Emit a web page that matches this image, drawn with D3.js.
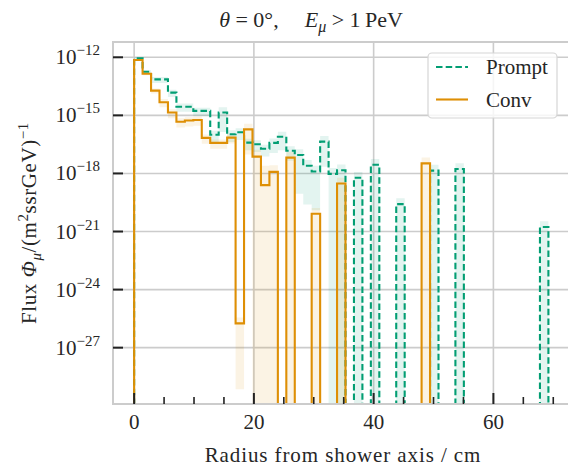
<!DOCTYPE html>
<html>
<head>
<meta charset="utf-8">
<script src="https://cdn.jsdelivr.net/npm/d3@7"></script>
<style>
body { margin: 0; background: #fff; }
</style>
</head>
<body>
<div id="chart"></div>
<script>
// radial bins, cm
const binWidth = 1.412;
const nBins = 50;

// muon flux per radial bin (0 = empty bin)
const promptFlux = [
    8.9e-13, 1.8e-13, 7.2e-14, 7.2e-14, 1.5e-14, 2.8e-15, 2.8e-15, 1.7e-15, 1.7e-15, 1.0e-16,
    1.4e-15, 1.05e-16, 1.35e-16, 3.9e-17, 3.2e-17, 1.9e-17, 3.8e-17, 7.9e-17, 1.5e-17, 8.9e-18,
    2.5e-18, 1.26e-18, 4.4e-17, 9.5e-19, 1.45e-18, 0, 6.0e-19, 0, 2.8e-18, 0,
    0, 2.6e-20, 0, 0, 0, 1.4e-18, 0, 0, 1.7e-18, 0,
    0, 0, 0, 0, 0, 0, 0, 0, 1.7e-21, 0
];
const convFlux = [
    7.2e-13, 1.4e-13, 1.9e-14, 4.8e-15, 1.4e-15, 4.7e-16, 5.4e-16, 5.8e-16, 6.9e-17, 3.8e-17,
    3.8e-17, 7.1e-17, 1.8e-26, 1.9e-16, 7.4e-18, 2.5e-19, 1.2e-18, 0, 6.6e-18, 0,
    0, 8.3e-21, 0, 0, 3.0e-19, 0, 0, 0, 0, 0,
    0, 0, 0, 0, 3.3e-18, 0, 0, 0, 0, 0,
    0, 0, 0, 0, 0, 0, 0, 0, 0, 0
];

// relative uncertainty per bin (shaded bands)
const promptErr = [
    0.15, 0.2, 0.35, 0.35, 0.4, 0.45, 0.45, 0.45, 0.45, 0.6,
    0.9, 0.6, 0.6, 0.6, 0.6, 0.6, 0.7, 0.8, 0.7, 0.99,
    0.99, 0.99, 0.95, 1, 1, 0, 1, 0, 1, 0,
    0, 1, 0, 0, 0, 1, 0, 0, 1, 0,
    0, 0, 0, 0, 0, 0, 0, 0, 1, 0
];
const convErr = [
    0.1, 0.15, 0.3, 0.45, 0.5, 0.5, 0.5, 0.5, 0.5, 0.5,
    0.5, 0.5, 0.9996, 0.95, 1.25, 9, 1.2, 0, 1, 0,
    0, 1, 0, 0, 1, 0, 0, 0, 0, 0,
    0, 0, 0, 0, 1, 0, 0, 0, 0, 0,
    0, 0, 0, 0, 0, 0, 0, 0, 0, 0
];

const yTickValues = [1e-27, 1e-24, 1e-21, 1e-18, 1e-15, 1e-12];
const xMajorTicks = [0, 20, 40, 60];
const xMinorTicks = [5, 10, 15, 25, 30, 35, 45, 50, 55, 65, 70];

const green = "#029e73";
const orange = "#de8f05";
const gridColor = "#cccccc";
const textColor = "#262626";
const font = "Liberation Serif";

const width = 568, height = 468;
const plot = { left: 113, right: 578, top: 42, bottom: 404 };

const svg = d3.select("#chart").append("svg")
    .attr("width", width)
    .attr("height", height);

const x = d3.scaleLinear()
    .domain([-3.53, 74.13])
    .range([plot.left, plot.right]);

const y = d3.scaleLog()
    .domain([Math.pow(10, -29.91), Math.pow(10, -11.21)])
    .range([plot.bottom, plot.top]);

const below = plot.bottom + 30;
const yPos = v => v > 0 ? y(v) : below;

function addText(parent, size) {
    return parent.append("text")
        .attr("font-family", font)
        .attr("font-size", size)
        .attr("fill", textColor);
}

svg.append("clipPath").attr("id", "clip")
    .append("rect")
    .attr("x", plot.left).attr("y", plot.top)
    .attr("width", plot.right - plot.left)
    .attr("height", plot.bottom - plot.top);

// grid
svg.append("g")
    .selectAll("line")
    .data(xMajorTicks)
    .join("line")
    .attr("x1", d => x(d)).attr("x2", d => x(d))
    .attr("y1", plot.top).attr("y2", plot.bottom)
    .attr("stroke", gridColor).attr("stroke-width", 1.6);

svg.append("g")
    .selectAll("line")
    .data(yTickValues)
    .join("line")
    .attr("x1", plot.left).attr("x2", plot.right)
    .attr("y1", d => y(d)).attr("y2", d => y(d))
    .attr("stroke", gridColor).attr("stroke-width", 1.6);

const edge = i => x(i * binWidth);

// error bands: one path per series
function bandPath(values, errs) {
    const p = d3.path();
    values.forEach((v, i) => {
        if (v <= 0 || errs[i] <= 0) return;
        const hi = y(v * (1 + errs[i]));
        const lo = errs[i] >= 1 ? below : y(v * (1 - errs[i]));
        p.rect(edge(i), hi, edge(i + 1) - edge(i), lo - hi);
    });
    return p.toString();
}

// stairs line from the baseline up and back down
function stairPoints(values) {
    const pts = [[edge(0), below]];
    values.forEach((v, i) => {
        pts.push([edge(i), yPos(v)]);
        pts.push([edge(i + 1), yPos(v)]);
    });
    pts.push([edge(nBins), below]);
    return pts;
}

const g = svg.append("g").attr("clip-path", "url(#clip)");

g.append("path")
    .attr("d", bandPath(promptFlux, promptErr))
    .attr("fill", green).attr("fill-opacity", 0.11);
g.append("path")
    .attr("d", bandPath(convFlux, convErr))
    .attr("fill", orange).attr("fill-opacity", 0.11);

const line = d3.line();

g.append("path")
    .attr("d", line(stairPoints(promptFlux)))
    .attr("fill", "none")
    .attr("stroke", green)
    .attr("stroke-width", 2.1)
    .attr("stroke-dasharray", "6.5,3.2");

g.append("path")
    .attr("d", line(stairPoints(convFlux)))
    .attr("fill", "none")
    .attr("stroke", orange)
    .attr("stroke-width", 2.1);

// spines
svg.append("rect")
    .attr("x", plot.left).attr("y", plot.top)
    .attr("width", plot.right - plot.left)
    .attr("height", plot.bottom - plot.top)
    .attr("fill", "none")
    .attr("stroke", gridColor)
    .attr("stroke-width", 2);

// ticks, pointing inwards
svg.append("g")
    .selectAll("line")
    .data(xMajorTicks)
    .join("line")
    .attr("x1", d => x(d)).attr("x2", d => x(d))
    .attr("y1", plot.bottom).attr("y2", plot.bottom - 11)
    .attr("stroke", "#222").attr("stroke-width", 2);

svg.append("g")
    .selectAll("line")
    .data(xMinorTicks)
    .join("line")
    .attr("x1", d => x(d)).attr("x2", d => x(d))
    .attr("y1", plot.bottom).attr("y2", plot.bottom - 7)
    .attr("stroke", "#222").attr("stroke-width", 1.6);

svg.append("g")
    .selectAll("line")
    .data(yTickValues)
    .join("line")
    .attr("x1", plot.left).attr("x2", plot.left + 10)
    .attr("y1", d => y(d)).attr("y2", d => y(d))
    .attr("stroke", "#222").attr("stroke-width", 2);

// tick labels
const xLabels = svg.append("g");
xMajorTicks.forEach(d => {
    addText(xLabels, 21)
        .attr("x", x(d))
        .attr("y", plot.bottom + 25)
        .attr("text-anchor", "middle")
        .text(d);
});

const yLabels = svg.append("g");
yTickValues.forEach(d => {
    const t = addText(yLabels, 21)
        .attr("x", 100)
        .attr("y", y(d) + 7)
        .attr("text-anchor", "end");
    t.append("tspan").text("10");
    t.append("tspan")
        .attr("dy", -9)
        .attr("font-size", 15)
        .text("\u2212" + Math.round(-Math.log10(d)));
});

// axis titles
addText(svg, 21)
    .attr("x", (plot.left + 573) / 2)
    .attr("y", 462)
    .attr("text-anchor", "middle")
    .attr("letter-spacing", 0.9)
    .text("Radius from shower axis / cm");

const yTitle = addText(svg, 21)
    .attr("transform", `translate(36, ${(plot.top + plot.bottom) / 2}) rotate(-90)`)
    .attr("text-anchor", "middle")
    .attr("letter-spacing", 0.6);
yTitle.append("tspan").text("Flux ");
yTitle.append("tspan").attr("font-style", "italic").text("\u03a6");
yTitle.append("tspan").attr("font-style", "italic").attr("font-size", 15).attr("dy", 5).text("\u03bc");
yTitle.append("tspan").attr("dy", -5).text("/(m");
yTitle.append("tspan").attr("font-size", 15).attr("dy", -8).text("2");
yTitle.append("tspan").attr("dy", 8).text("ssrGeV)");
yTitle.append("tspan").attr("font-size", 15).attr("dy", -8).text("\u22121");

// title
const title = addText(svg, 22)
    .attr("x", 311)
    .attr("y", 27)
    .attr("text-anchor", "middle");
title.append("tspan").attr("font-style", "italic").text("\u03b8");
title.append("tspan").text(" = 0\u00b0,");
title.append("tspan").attr("font-style", "italic").attr("dx", 26).text("E");
title.append("tspan").attr("font-style", "italic").attr("font-size", 16).attr("dy", 5).text("\u03bc");
title.append("tspan").attr("dy", -5).text(" > 1\u2009PeV");

// legend
const legend = svg.append("g");
legend.append("rect")
    .attr("x", 428).attr("y", 53)
    .attr("width", 129).attr("height", 65)
    .attr("rx", 4)
    .attr("fill", "#fff").attr("fill-opacity", 0.8)
    .attr("stroke", "#d6d6d6").attr("stroke-width", 1.2);

const legendItems = [
    { label: "Prompt", color: green, dash: "6.5,3.2" },
    { label: "Conv", color: orange, dash: null }
];
legendItems.forEach((d, i) => {
    const ly = 67 + i * 32.5;
    legend.append("line")
        .attr("x1", 436).attr("x2", 468)
        .attr("y1", ly).attr("y2", ly)
        .attr("stroke", d.color).attr("stroke-width", 2.1)
        .attr("stroke-dasharray", d.dash);
    addText(legend, 21)
        .attr("x", 486).attr("y", ly + 7)
        .text(d.label);
});
</script>
</body>
</html>
